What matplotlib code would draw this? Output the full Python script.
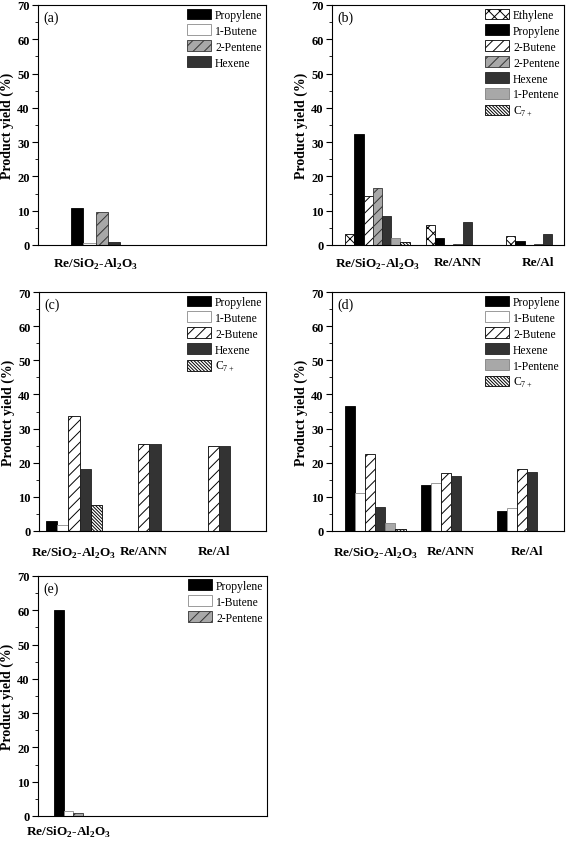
import matplotlib
matplotlib.use("Agg")
import numpy as np
import matplotlib.pyplot as plt
from matplotlib.ticker import MultipleLocator

plt.rcParams['font.family'] = ['Liberation Serif', 'DejaVu Serif']
plt.rcParams['mathtext.fontset'] = 'custom'
plt.rcParams['mathtext.rm'] = 'Liberation Serif'
plt.rcParams['mathtext.bf'] = 'Liberation Serif:bold'
plt.rcParams['hatch.linewidth'] = 0.7

# category names
cat_sa = 'Re/SiO$_\\mathbf{2}$-Al$_\\mathbf{2}$O$_\\mathbf{3}$'
cats_one = [cat_sa]
cats_three = [cat_sa, 'Re/ANN', 'Re/Al']

# (a)
series_a = ['Propylene', '1-Butene', '2-Pentene', 'Hexene']
yield_a = [[10.7], [0.6], [9.5], [1.0]]

# (b)
series_b = ['Ethylene', 'Propylene', '2-Butene', '2-Pentene', 'Hexene', '1-Pentene', 'C7+']
yield_b = [[3.1, 5.8, 2.6],
           [32.4, 1.9, 1.1],
           [14.3, 0.0, 0.0],
           [16.5, 0.3, 0.2],
           [8.5, 6.7, 3.1],
           [1.9, 0.0, 0.0],
           [0.8, 0.0, 0.0]]

# (c)
series_c = ['Propylene', '1-Butene', '2-Butene', 'Hexene', 'C7+']
yield_c = [[2.8, 0.0, 0.0],
           [1.7, 0.0, 0.0],
           [33.8, 25.5, 25.0],
           [18.2, 25.5, 24.9],
           [7.7, 0.0, 0.0]]

# (d)
series_d = ['Propylene', '1-Butene', '2-Butene', 'Hexene', '1-Pentene', 'C7+']
yield_d = [[36.7, 13.5, 6.0],
           [11.0, 14.2, 6.8],
           [22.5, 17.1, 18.3],
           [7.0, 16.0, 17.4],
           [2.3, 0.0, 0.0],
           [0.6, 0.0, 0.0]]

# (e)
series_e = ['Propylene', '1-Butene', '2-Pentene']
yield_e = [[60.1], [1.4], [0.8]]

# facecolor, edgecolor, hatch
styles = {
    'Ethylene': ('white', 'black', 'xxx'),
    'Propylene': ('black', 'black', None),
    '1-Butene': ('white', '#8a8a8a', None),
    '2-Butene': ('white', 'black', '///'),
    '2-Pentene': ('#a8a8a8', '#333333', '///'),
    'Hexene': ('#333333', '#222222', None),
    '1-Pentene': ('#a8a8a8', '#808080', None),
    'C7+': ('white', 'black', '\\' * 10),
}
legend_names = {'C7+': 'C$_{7+}$'}

W, H = 567, 845
fig = plt.figure(figsize=(W / 100, H / 100), dpi=100)


def make_ax(l, r, t, b):
    return fig.add_axes([l / W, 1 - b / H, (r - l) / W, (b - t) / H])


def draw(ax, cats, series, values, xlim, letter, pad):
    n = len(series)
    w = 0.8 / n
    x = np.arange(1, len(cats) + 1)
    for i, (name, vals) in enumerate(zip(series, values)):
        fc, ec, hatch = styles[name]
        ax.bar(x + (i - (n - 1) / 2) * w, vals, w, color=fc, edgecolor=ec,
               hatch=hatch, linewidth=0.6, label=legend_names.get(name, name))
    ax.set_xlim(*xlim)
    ax.set_ylim(0, 70)
    ax.set_xticks(x)
    ax.set_xticklabels(cats, fontweight='bold', fontsize=9.5)
    ax.tick_params(axis='x', length=0, pad=pad)
    ax.yaxis.set_major_locator(MultipleLocator(10))
    ax.yaxis.set_minor_locator(MultipleLocator(5))
    ax.tick_params(axis='y', which='major', direction='out', length=4, width=0.8, labelsize=9, pad=2)
    ax.tick_params(axis='y', which='minor', direction='out', length=2, width=0.6)
    for lab in ax.get_yticklabels():
        lab.set_fontweight('bold')
    for s in ax.spines.values():
        s.set_linewidth(0.8)
    ax.set_ylabel('Product yield (%)', fontweight='bold', fontsize=10, labelpad=2)
    ax.text(0.025, 0.975, letter, transform=ax.transAxes, ha='left', va='top', fontsize=10)
    ax.legend(loc='upper right', frameon=False, fontsize=8.4, handlelength=2.1,
              handleheight=1.0, labelspacing=0.32, handletextpad=0.35,
              borderaxespad=0.2, borderpad=0.1)


ax_a = make_ax(38, 266, 6, 246)
draw(ax_a, cats_one, series_a, yield_a, (0.06, 3.78), '(a)', 8)

ax_b = make_ax(332, 564, 6, 246)
draw(ax_b, cats_three, series_b, yield_b, (0.436, 3.318), '(b)', 8)

ax_c = make_ax(39, 266, 293, 532)
draw(ax_c, cats_three, series_c, yield_c, (0.5, 3.75), '(c)', 10)

ax_d = make_ax(332, 564, 293, 532)
draw(ax_d, cats_three, series_d, yield_d, (0.43, 3.49), '(d)', 10)

ax_e = make_ax(38, 267, 577, 817)
draw(ax_e, cats_one, series_e, yield_e, (0.15, 6.58), '(e)', 6)

fig.savefig('out.png', dpi=100)
